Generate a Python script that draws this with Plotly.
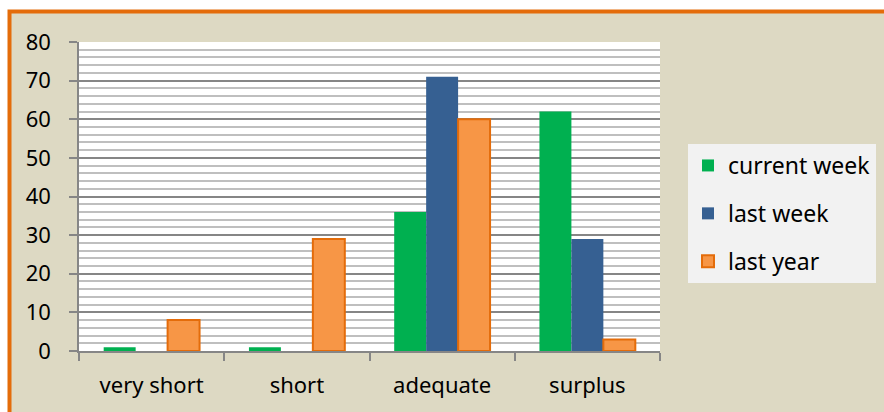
import plotly.graph_objects as go

categories = ["very short", "short", "adequate", "surplus"]
current_week = [1, 1, 36, 62]
last_week = [0, 0, 71, 29]
last_year = [8, 29, 60, 3]
y_ticks = [0, 10, 20, 30, 40, 50, 60, 70, 80]

FONT = "Noto Sans"
FS = 22
W, H = 884, 412
L, R, T, B = 79, 224, 42, 61
pw, ph = W - L - R, H - T - B

def px_x(p):
    return (p - L) / pw

def px_y(p):
    return (H - B - p) / ph

fig = go.Figure()
fig.add_trace(go.Bar(name="current week", x=categories, y=current_week,
                     marker=dict(color="#00b050", line=dict(width=0)), legendgroup="a"))
fig.add_trace(go.Bar(name="last week", x=categories, y=last_week,
                     marker=dict(color="#366092", line=dict(width=0)), legendgroup="b"))
fig.add_trace(go.Bar(name="last year", x=categories, y=last_year,
                     marker=dict(color="#f79646", line=dict(color="#e46c0a", width=2)), legendgroup="c"))

fig.update_layout(
    width=W, height=H,
    margin=dict(l=L, r=R, t=T, b=B, pad=0, autoexpand=False),
    paper_bgcolor="white",
    plot_bgcolor="rgba(0,0,0,0)",
    barmode="group",
    bargap=0.34,
    bargroupgap=0,
    font=dict(family=FONT, size=FS, color="#000000"),
    showlegend=True,
    legend=dict(
        x=px_x(688), y=px_y(144), xanchor="left", yanchor="top",
        bgcolor="#f2f2f2", borderwidth=0,
        font=dict(family=FONT, size=23, color="#000000"),
        traceorder="grouped", tracegroupgap=15,
        itemwidth=30,
    ),
    shapes=[
        dict(type="rect", xref="paper", yref="paper",
             x0=px_x(9.5), x1=px_x(W + 20), y0=px_y(H + 20), y1=px_y(11.5),
             fillcolor="#ddd9c3", line=dict(color="#e46c0a", width=4), layer="below"),
        dict(type="rect", xref="paper", yref="paper",
             x0=0, x1=1, y0=0, y1=1,
             fillcolor="white", line=dict(width=0), layer="below"),
    ],
)

fig.update_xaxes(
    showgrid=False, showline=True, linecolor="#868686", linewidth=1.5,
    ticks="outside", ticklen=8, tickcolor="#868686", tickwidth=1.5,
    tickson="boundaries", ticklabelstandoff=14,
    tickfont=dict(family=FONT, size=FS, color="#000000"),
)
fig.update_yaxes(
    range=[0, 80], tickvals=y_ticks, showline=True, linecolor="#868686", linewidth=1.5,
    ticks="outside", ticklen=8, tickcolor="#868686", tickwidth=1.5,
    showgrid=True, gridcolor="#868686", gridwidth=1.5,
    minor=dict(dtick=2, showgrid=True, gridcolor="#bfbfbf", gridwidth=1.5),
    zeroline=False, ticklabelstandoff=14,
    tickfont=dict(family=FONT, size=FS, color="#000000"),
)

fig.write_html("out.html", config={"displayModeBar": False},
               post_script="document.body.style.margin='0';")
